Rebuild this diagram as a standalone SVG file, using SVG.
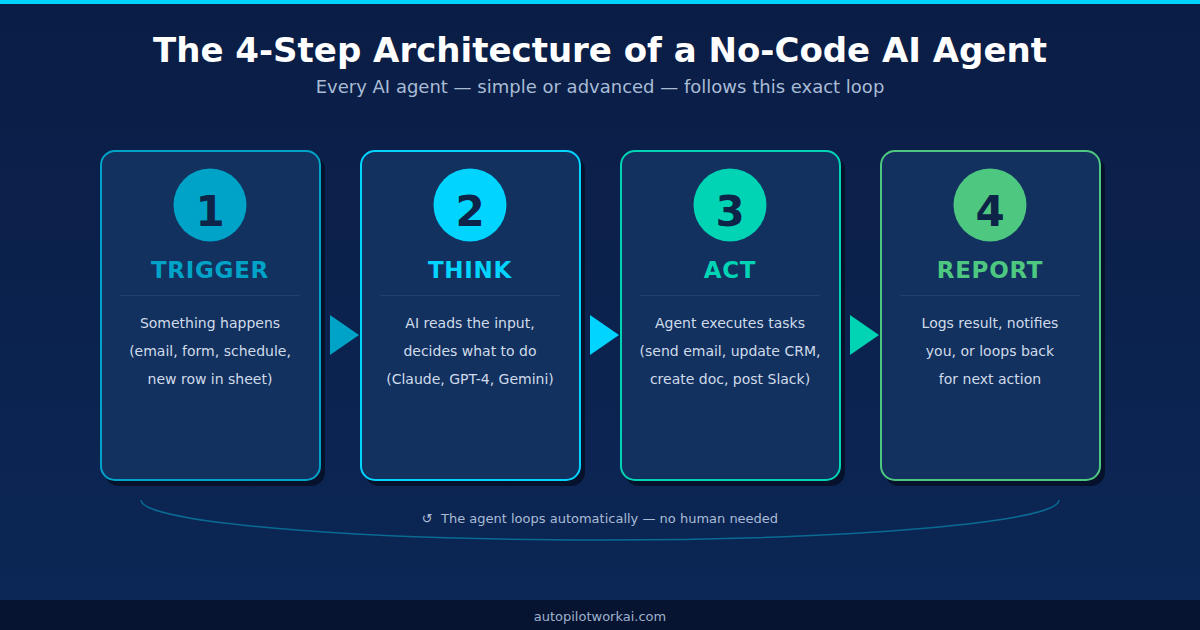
<svg xmlns="http://www.w3.org/2000/svg" width="1200" height="630" viewBox="0 0 1200 630">
<defs>
<linearGradient id="bg" x1="0" y1="0" x2="0" y2="1">
<stop offset="0" stop-color="#0a1d45"/>
<stop offset="1" stop-color="#0c2756"/>
</linearGradient>
<style>
text{font-family:"DejaVu Sans",sans-serif;text-anchor:middle}
.card{fill:#12315f;stroke-width:2}
.shadow{fill:#06122c}
.num{font-size:42px;font-weight:bold;fill:#0d2448}
.ttl{font-size:23px;font-weight:bold;letter-spacing:0.7px}
.body{font-size:14px;fill:#d0dbea}
.div{stroke:#21416d;stroke-width:1}
</style>
</defs>
<rect width="1200" height="630" fill="url(#bg)"/>
<rect width="1200" height="4" fill="#00d4ff"/>
<text x="600" y="62" font-size="34" font-weight="bold" fill="#ffffff">The 4-Step Architecture of a No-Code AI Agent</text>
<text x="600" y="93" font-size="18" fill="#a9bcd6">Every AI agent — simple or advanced — follows this exact loop</text>

<g id="node1">
<rect class="shadow" x="105" y="156" width="220" height="330" rx="14"/>
<rect class="card" x="101" y="151" width="219" height="329" rx="14" stroke="#00a3c8"/>
<circle cx="210" cy="205" r="36.5" fill="#00a3c8"/>
<text class="num" x="210" y="226">1</text>
<text class="ttl" x="210" y="278" fill="#00a3c8">TRIGGER</text>
<line class="div" x1="120" y1="295.5" x2="300" y2="295.5"/>
<text class="body" x="210" y="328">Something happens</text>
<text class="body" x="210" y="356">(email, form, schedule,</text>
<text class="body" x="210" y="384">new row in sheet)</text>
</g>

<g id="node2">
<rect class="shadow" x="365" y="156" width="220" height="330" rx="14"/>
<rect class="card" x="361" y="151" width="219" height="329" rx="14" stroke="#00d4ff"/>
<circle cx="470" cy="205" r="36.5" fill="#00d4ff"/>
<text class="num" x="470" y="226">2</text>
<text class="ttl" x="470" y="278" fill="#00d4ff">THINK</text>
<line class="div" x1="380" y1="295.5" x2="560" y2="295.5"/>
<text class="body" x="470" y="328">AI reads the input,</text>
<text class="body" x="470" y="356">decides what to do</text>
<text class="body" x="470" y="384">(Claude, GPT-4, Gemini)</text>
</g>

<g id="node3">
<rect class="shadow" x="625" y="156" width="220" height="330" rx="14"/>
<rect class="card" x="621" y="151" width="219" height="329" rx="14" stroke="#00d4b4"/>
<circle cx="730" cy="205" r="36.5" fill="#00d4b4"/>
<text class="num" x="730" y="226">3</text>
<text class="ttl" x="730" y="278" fill="#00d4b4">ACT</text>
<line class="div" x1="640" y1="295.5" x2="820" y2="295.5"/>
<text class="body" x="730" y="328">Agent executes tasks</text>
<text class="body" x="730" y="356">(send email, update CRM,</text>
<text class="body" x="730" y="384">create doc, post Slack)</text>
</g>

<g id="node4">
<rect class="shadow" x="885" y="156" width="220" height="330" rx="14"/>
<rect class="card" x="881" y="151" width="219" height="329" rx="14" stroke="#4ec880"/>
<circle cx="990" cy="205" r="36.5" fill="#4ec880"/>
<text class="num" x="990" y="226">4</text>
<text class="ttl" x="990" y="278" fill="#4ec880">REPORT</text>
<line class="div" x1="900" y1="295.5" x2="1080" y2="295.5"/>
<text class="body" x="990" y="328">Logs result, notifies</text>
<text class="body" x="990" y="356">you, or loops back</text>
<text class="body" x="990" y="384">for next action</text>
</g>

<g id="connectors">
<polygon points="330,315 359,335 330,355" fill="#00a3c8"/>
<polygon points="590,315 619,335 590,355" fill="#00d4ff"/>
<polygon points="850,315 879,335 850,355" fill="#00d4b4"/>
<path d="M141 500 A459 40 0 0 0 1059 500" fill="none" stroke="#0a6a92" stroke-width="1.5"/>
</g>
<text x="600" y="523" font-size="13" fill="#a9bcd6" xml:space="preserve">↺  The agent loops automatically — no human needed</text>

<rect y="600" width="1200" height="30" fill="#061432"/>
<text x="600" y="621" font-size="13" fill="#9fb1cb">autopilotworkai.com</text>
</svg>
